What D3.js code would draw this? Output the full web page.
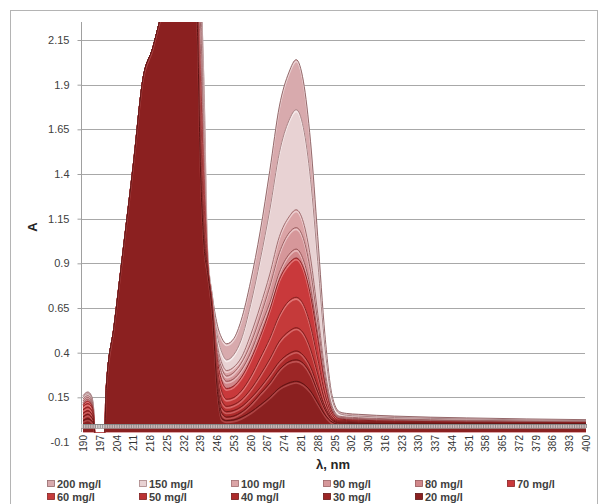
<!DOCTYPE html>
<html>
<head>
<meta charset="utf-8">
<script src="https://cdn.jsdelivr.net/npm/d3@7"></script>
<style>
  body { margin: 0; background: #fff; }
  text { font-family: "Liberation Sans", Arial, sans-serif; }
</style>
</head>
<body>
<svg id="chart" width="600" height="504"></svg>
<script>
// Absorption spectra, wavelength (nm) against absorbance A, one series per concentration.
const wavelengths = [190, 192, 193.5, 194.5, 195, 199, 199.7, 203, 207, 211, 215, 219, 223, 226, 236,
  237.5, 239, 240.5, 242, 244, 246, 248, 250, 253, 256, 260, 264, 268, 272, 276, 279, 282, 285, 288,
  291, 294, 297, 300, 305, 320, 350, 400];

const seriesNames = ["200 mg/l", "150 mg/l", "100 mg/l", "90 mg/l", "80 mg/l", "70 mg/l",
  "60 mg/l", "50 mg/l", "40 mg/l", "30 mg/l", "20 mg/l"];

const a200 = [0.16, 0.18, 0.16, 0.08, -0.06, -0.06, 0.2, 0.55, 1.0, 1.45, 1.93, 2.1, 2.3, 2.4, 2.4,
  2.4, 2.4, 1.9, 0.98, 0.72, 0.56, 0.48,
  0.45, 0.48, 0.58, 0.80, 1.08, 1.42, 1.78, 1.97, 2.04, 1.92, 1.58, 1.05, 0.50, 0.16, 0.07, 0.06,
  0.055, 0.045, 0.035, 0.025];
const a150 = [0.15, 0.17, 0.15, 0.07, -0.06, -0.06, 0.2, 0.55, 1.0, 1.45, 1.93, 2.1, 2.3, 2.4, 2.4,
  2.4, 2.4, 1.8, 0.96, 0.70, 0.50, 0.40,
  0.36, 0.39, 0.47, 0.67, 0.92, 1.20, 1.52, 1.70, 1.76, 1.66, 1.37, 0.91, 0.43, 0.14, 0.06, 0.05,
  0.045, 0.037, 0.029, 0.02];
const a100 = [0.14, 0.16, 0.14, 0.06, -0.06, -0.06, 0.2, 0.55, 1.0, 1.45, 1.93, 2.1, 2.3, 2.4, 2.4,
  2.4, 2.35, 1.65, 0.94, 0.69, 0.45, 0.34,
  0.30, 0.32, 0.37, 0.50, 0.66, 0.84, 1.05, 1.16, 1.20, 1.13, 0.93, 0.62, 0.30, 0.10, 0.045, 0.04,
  0.036, 0.029, 0.022, 0.015];
const a90 = [0.13, 0.15, 0.13, 0.055, -0.06, -0.06, 0.2, 0.55, 1.0, 1.45, 1.93, 2.1, 2.3, 2.4, 2.4,
  2.4, 2.25, 1.55, 0.93, 0.68, 0.42, 0.31,
  0.27, 0.29, 0.34, 0.45, 0.60, 0.77, 0.96, 1.07, 1.10, 1.04, 0.855, 0.57, 0.27, 0.088, 0.04, 0.035,
  0.031, 0.025, 0.019, 0.012];
const a80 = [0.12, 0.14, 0.12, 0.05, -0.06, -0.06, 0.2, 0.55, 1.0, 1.45, 1.93, 2.1, 2.3, 2.4, 2.4,
  2.4, 2.1, 1.45, 0.92, 0.675, 0.40, 0.28,
  0.24, 0.255, 0.30, 0.40, 0.54, 0.68, 0.85, 0.95, 0.98, 0.92, 0.76, 0.505, 0.24, 0.078, 0.035, 0.03,
  0.027, 0.021, 0.016, 0.01];
const a70 = [0.11, 0.13, 0.11, 0.045, -0.06, -0.06, 0.2, 0.55, 1.0, 1.45, 1.93, 2.1, 2.3, 2.4, 2.4,
  2.4, 1.95, 1.35, 0.91, 0.67, 0.37, 0.24,
  0.20, 0.215, 0.26, 0.36, 0.49, 0.64, 0.81, 0.90, 0.93, 0.875, 0.72, 0.48, 0.225, 0.07, 0.03, 0.025,
  0.022, 0.017, 0.012, 0.008];
const a60 = [0.10, 0.115, 0.10, 0.04, -0.06, -0.06, 0.2, 0.55, 1.0, 1.45, 1.93, 2.1, 2.3, 2.4, 2.4,
  2.4, 1.8, 1.25, 0.90, 0.66, 0.33, 0.18,
  0.14, 0.15, 0.185, 0.265, 0.37, 0.48, 0.61, 0.69, 0.71, 0.67, 0.55, 0.365, 0.17, 0.055, 0.022, 0.02,
  0.017, 0.013, 0.009, 0.006];
const a50 = [0.08, 0.095, 0.08, 0.03, -0.06, -0.06, 0.2, 0.55, 1.0, 1.45, 1.93, 2.1, 2.3, 2.4, 2.4,
  2.4, 1.7, 1.15, 0.89, 0.65, 0.29, 0.13,
  0.10, 0.11, 0.135, 0.195, 0.275, 0.365, 0.465, 0.52, 0.54, 0.51, 0.42, 0.28, 0.13, 0.04, 0.017, 0.015,
  0.013, 0.01, 0.007, 0.004];
const a40 = [0.06, 0.075, 0.06, 0.02, -0.06, -0.06, 0.2, 0.55, 1.0, 1.45, 1.93, 2.1, 2.3, 2.4, 2.4,
  2.4, 1.6, 1.10, 0.88, 0.64, 0.26, 0.09,
  0.07, 0.077, 0.097, 0.145, 0.205, 0.275, 0.35, 0.395, 0.41, 0.385, 0.32, 0.21, 0.098, 0.03, 0.012, 0.01,
  0.008, 0.006, 0.004, 0.002];
const a30 = [0.04, 0.055, 0.04, 0.01, -0.06, -0.06, 0.2, 0.55, 1.0, 1.45, 1.93, 2.1, 2.3, 2.4, 2.4,
  2.35, 1.5, 1.05, 0.865, 0.63, 0.23, 0.06,
  0.04, 0.046, 0.066, 0.11, 0.17, 0.23, 0.305, 0.35, 0.36, 0.34, 0.28, 0.18, 0.083, 0.023, 0.007, 0.005,
  0.004, 0.003, 0.002, 0.001];
const a20 = [0.02, 0.03, 0.02, 0.0, -0.06, -0.06, 0.2, 0.55, 1.0, 1.45, 1.93, 2.1, 2.3, 2.4, 2.4,
  2.3, 1.45, 1.0, 0.85, 0.62, 0.20, 0.03,
  0.02, 0.024, 0.038, 0.068, 0.108, 0.152, 0.203, 0.231, 0.24, 0.225, 0.185, 0.12, 0.053, 0.012, 0.0, 0.0,
  0.0, 0.0, 0.0, 0.0];

const seriesValues = [a200, a150, a100, a90, a80, a70, a60, a50, a40, a30, a20];

const yTickValues = [-0.1, 0.15, 0.4, 0.65, 0.9, 1.15, 1.4, 1.65, 1.9, 2.15];
const xTickLabels = [190, 197, 204, 211, 218, 225, 232, 239, 246, 253, 260, 267, 274, 281, 288, 295,
  302, 309, 316, 323, 330, 337, 344, 351, 358, 365, 372, 379, 386, 393, 400];

// face colour, edge colour, highlight colour per series
const fills   = ["#d8aaad", "#e8d2d3", "#dba4a6", "#d6979a", "#d1878a", "#c9393b",
                 "#c53a3a", "#bb3232", "#ad2b2b", "#9c2626", "#8b2020"];
const edges   = ["#94696b", "#a98486", "#a06c6e", "#9c6264", "#975658", "#8a2224",
                 "#862222", "#7f1e1e", "#761a1a", "#6a1616", "#5e1313"];
const lights  = ["#f3e3e4", "#fbf3f3", "#f2dcdd", "#efd2d3", "#ecc6c7", "#ea8c8d",
                 "#e88a8a", "#e07c7c", "#d66f6f", "#c96262", "#b85252"];

const svg = d3.select("#chart");

// chart frame
svg.append("rect").attr("x", 10.5).attr("y", 10.5).attr("width", 587).attr("height", 500)
  .attr("fill", "#fff").attr("stroke", "#b4b4b4");

const x = d3.scaleLinear().domain([190, 400]).range([83, 586]);
const y = d3.scaleLinear().domain([-0.1, 2.15]).range([442, 40]);
const FLOOR = -0.045;
const plotLeft = 81, plotRight = 586, plotTop = 22, floorY = y(FLOOR);

// gridlines
svg.append("g").selectAll("line").data(yTickValues.filter(v => v > 0)).join("line")
  .attr("x1", plotLeft).attr("x2", 585)
  .attr("y1", d => Math.round(y(d)) + 0.5).attr("y2", d => Math.round(y(d)) + 0.5)
  .attr("stroke", "#a8a8a8").attr("stroke-width", 1);

// value axis
const yAxis = d3.axisLeft(y).tickValues(yTickValues).tickSize(4).tickSizeOuter(0)
  .tickFormat(d => String(d));
const gy = svg.append("g").attr("transform", `translate(${plotLeft + 0.5},0)`).call(yAxis);
gy.select(".domain").remove();
gy.selectAll(".tick line").attr("stroke", "#a0a0a0");
gy.selectAll(".tick").filter(d => d < 0).select("line").remove();
gy.selectAll(".tick text").attr("x", -12).attr("fill", "#404040")
  .style("font-size", "11px").style("font-family", "'Liberation Sans', Arial, sans-serif");
svg.append("line").attr("x1", plotLeft + 0.5).attr("x2", plotLeft + 0.5)
  .attr("y1", plotTop).attr("y2", 432).attr("stroke", "#a0a0a0");

// areas
svg.append("defs").append("clipPath").attr("id", "plotClip")
  .append("rect").attr("x", plotLeft).attr("y", plotTop)
  .attr("width", plotRight - plotLeft + 1).attr("height", floorY - plotTop);

const area = d3.area().x(d => x(d[0])).y0(floorY).y1(d => y(d[1])).curve(d3.curveMonotoneX);
const edge = d3.line().x(d => x(d[0])).y(d => y(d[1])).curve(d3.curveMonotoneX);

const layers = svg.append("g").attr("clip-path", "url(#plotClip)");
seriesValues.forEach((vals, i) => {
  const pts = wavelengths.map((w, k) => [w, vals[k]]);
  const g = layers.append("g");
  g.append("path").attr("d", area(pts)).attr("fill", fills[i]);
  g.append("path").attr("d", edge(pts)).attr("fill", "none")
    .attr("stroke", lights[i]).attr("stroke-width", 1.6).attr("opacity", 0.75)
    .attr("transform", "translate(0,1.8)");
  g.append("path").attr("d", edge(pts)).attr("fill", "none")
    .attr("stroke", edges[i]).attr("stroke-width", 1);
});

// category axis strip with a tick for every nanometre
const stripY = 424;
svg.append("rect").attr("x", plotLeft).attr("y", stripY).attr("width", plotRight - plotLeft)
  .attr("height", 4).attr("fill", "#d9d2d2").attr("opacity", 0.85);
const nmTicks = [];
for (let w = 190; w <= 400; w++) nmTicks.push(w);
const xMinor = d3.axisBottom(x).tickValues(nmTicks).tickSize(4).tickSizeOuter(0).tickFormat("");
const gxm = svg.append("g").attr("transform", `translate(0,${stripY})`).call(xMinor);
gxm.select(".domain").attr("stroke", "#8c8c8c");
gxm.selectAll(".tick line").attr("stroke", "#7d7d7d").attr("stroke-width", 0.8);
svg.append("line").attr("x1", plotLeft).attr("x2", plotRight).attr("y1", stripY + 4.5).attr("y2", stripY + 4.5)
  .attr("stroke", "#9a9090").attr("stroke-width", 0.8);

// category labels, rotated
const xAxis = d3.axisBottom(x).tickValues(xTickLabels).tickSize(0).tickFormat(d => String(d));
const gx = svg.append("g").attr("transform", "translate(0,435)").call(xAxis);
gx.select(".domain").remove();
gx.selectAll(".tick text")
  .attr("transform", "rotate(-90)").attr("x", 0).attr("y", 0).attr("dy", "0.35em")
  .attr("text-anchor", "end").attr("fill", "#333333")
  .style("font-size", "10px").style("font-family", "'Liberation Sans', Arial, sans-serif");

// axis titles
svg.append("text").attr("transform", "translate(37,227) rotate(-90)")
  .attr("text-anchor", "middle").attr("fill", "#262626")
  .style("font-size", "13px").style("font-weight", "bold").text("A");
svg.append("text").attr("x", 333).attr("y", 469)
  .attr("text-anchor", "middle").attr("fill", "#262626")
  .style("font-size", "13px").style("font-weight", "bold").text("λ, nm");

// legend
const legend = svg.append("g");
seriesNames.forEach((name, i) => {
  const col = i % 6, row = Math.floor(i / 6);
  const lx = 47 + col * 92, ly = 484 + row * 13;
  legend.append("rect").attr("x", lx + 0.5).attr("y", ly - 3.5).attr("width", 7).attr("height", 6)
    .attr("fill", fills[i]).attr("stroke", edges[i]).attr("stroke-width", 0.8);
  legend.append("text").attr("x", lx + 10).attr("y", ly).attr("dy", "0.35em")
    .attr("fill", "#404040").style("font-size", "11px").style("font-weight", "bold").text(name);
});
</script>
</body>
</html>
